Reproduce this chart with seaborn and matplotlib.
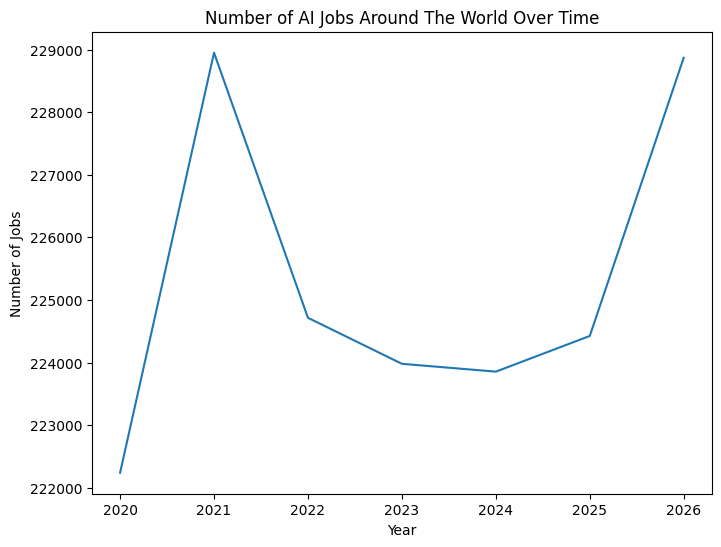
import matplotlib
matplotlib.use("Agg")
import pandas as pd
import seaborn as sns
import matplotlib.pyplot as plt

# Número de vagas de IA por ano
years = [2020, 2021, 2022, 2023, 2024, 2025, 2026]
jobs = [222240, 228950, 224715, 223980, 223855, 224425, 228870]

df = pd.DataFrame({"Year": years, "Number of Jobs": jobs})

plt.figure(figsize=(8, 6))
ax = sns.lineplot(data=df, x="Year", y="Number of Jobs")

plt.title("Number of AI Jobs Around The World Over Time")
plt.xlabel("Year")
plt.ylabel("Number of Jobs")

plt.savefig("out.png", dpi=100, bbox_inches="tight")
